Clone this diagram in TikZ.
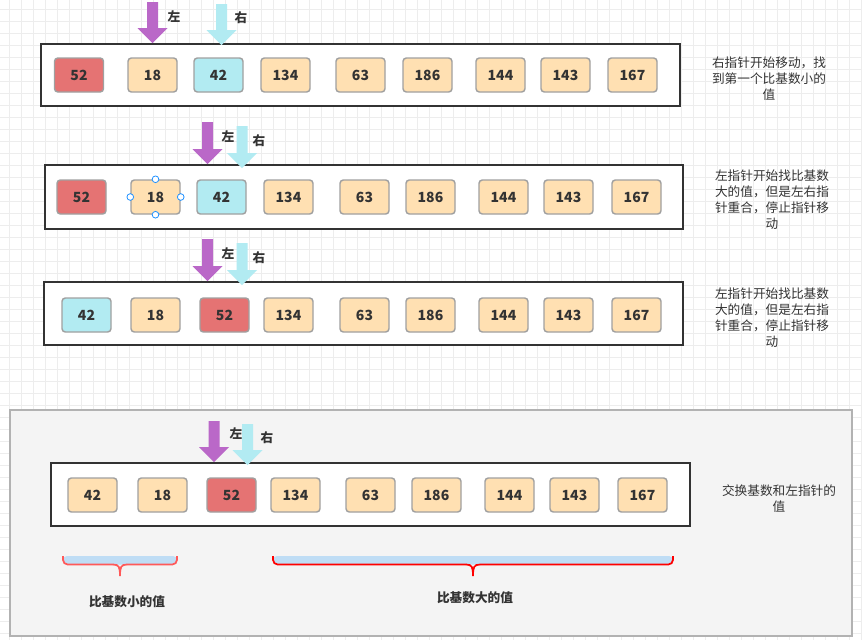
\documentclass[tikz,border=0pt]{standalone}
\usepackage{fontspec}
\setmainfont{Noto Sans CJK SC}
\usetikzlibrary{positioning}
\definecolor{cream}{HTML}{FFE0B2}
\definecolor{pivotred}{HTML}{E57373}
\definecolor{hitcyan}{HTML}{B2EBF2}
\definecolor{leftarrow}{HTML}{BA68C8}
\definecolor{cellline}{HTML}{A0A0A0}
\definecolor{gridgray}{HTML}{EDEDED}
\definecolor{panelgray}{HTML}{F4F4F4}
\definecolor{bracefill}{HTML}{BFDDF5}
\definecolor{handleblue}{HTML}{1E90FF}
\definecolor{txt}{HTML}{333333}
% block arrow pointing down: centre x, top y, tip y, colour
\newcommand\pointer[4]{\fill[#4] (#1-5.5,#2) -- (#1+5.5,#2) -- (#1+5.5,#3-15) -- (#1+15,#3-15) -- (#1,#3) -- (#1-15,#3-15) -- (#1-5.5,#3-15) -- cycle;}
% curly bracket: left x, right x, middle x, colour
\newcommand\curly[4]{%
	\fill[bracefill,rounded corners=3] (#1,556) rectangle (#2,564.5);
	\draw[#4,line width=1.3pt,rounded corners=3.5] (#1,556) |- (#3-7,564.5);
	\draw[#4,line width=1.3pt,rounded corners=3.5] (#2,556) |- (#3+7,564.5);
	\draw[#4,line width=1.3pt] (#3-7,564.5) .. controls (#3-1,564.5) and (#3,567) .. (#3,576) .. controls (#3,567) and (#3+1,564.5) .. (#3+7,564.5);}

\begin{document}
\begin{tikzpicture}[% pixel units, y grows downwards
			x=0.75pt,y=-0.75pt,
			every node/.style={
				align=center,		% "\\" breaks the notes
				inner sep=0pt,
				text=txt
			},
			cell/.style={rectangle,rounded corners=2.5pt,draw=cellline,line width=1.1pt,fill=cream,
				minimum width=36.75pt,minimum height=25.5pt,font=\bfseries\fontsize{10.5}{12}\selectfont},
			pivot/.style={cell,fill=pivotred},
			hit/.style={cell,fill=hitcyan},
			frame/.style={draw=black!80,line width=1.1pt,fill=white},
			note/.style={font=\fontsize{9.5}{12}\selectfont},
			tag/.style={font=\bfseries\fontsize{9.5}{11}\selectfont},
			handle/.style={circle,draw=handleblue,fill=white,line width=0.6pt,minimum size=5pt}
		]
		\useasboundingbox (0,0) rectangle (862,640);
		\fill[white] (0,0) rectangle (862,640);
		\foreach \g in {9,21,...,861} \draw[gridgray,line width=0.6pt] (\g,0) -- (\g,640);
		\foreach \g in {9,21,...,633} \draw[gridgray,line width=0.6pt] (0,\g) -- (862,\g);

		% step 1
		\draw[frame] (41,44) rectangle (680,106);
		\node[pivot](a1) at (79,75){52};
		\node[cell](a2) at (152.5,75){18};
		\node[hit](a3) at (218.5,75){42};
		\node[cell](a4) at (285.5,75){134};
		\node[cell](a5) at (360.5,75){63};
		\node[cell](a6) at (427.5,75){186};
		\node[cell](a7) at (500.5,75){144};
		\node[cell](a8) at (565.5,75){143};
		\node[cell](a9) at (632.5,75){167};
		\pointer{152.5}{2}{43}{leftarrow}
		\pointer{221.5}{4}{45}{hitcyan}
		\node[tag](L1) at (174,17){左};
		\node[tag](R1) at (241,18){右};
		\node[note](N1) at (769,78.5){右指针开始移动，找\\到第一个比基数小的\\值};

		% step 2
		\draw[frame] (45,165) rectangle (683,229);
		\node[pivot](b1) at (81.5,197){52};
		\node[cell](b2) at (155.5,197){18};
		\node[hit](b3) at (221.5,197){42};
		\node[cell](b4) at (288.5,197){134};
		\node[cell](b5) at (364.5,197){63};
		\node[cell](b6) at (430.5,197){186};
		\node[cell](b7) at (503.5,197){144};
		\node[cell](b8) at (568.5,197){143};
		\node[cell](b9) at (636.5,197){167};
		\node[handle] at (b2.west){};
		\node[handle] at (b2.east){};
		\node[handle] at (b2.north){};
		\node[handle] at (b2.south){};
		\pointer{207.5}{122}{164}{leftarrow}
		\pointer{242}{126}{168}{hitcyan}
		\node[tag](L2) at (228,137){左};
		\node[tag](R2) at (259,141){右};
		\node[note](N2) at (772,199.5){左指针开始找比基数\\大的值，但是左右指\\针重合，停止指针移\\动};

		% step 3
		\draw[frame] (44,282) rectangle (683,345);
		\node[hit](c1) at (86.5,315){42};
		\node[cell](c2) at (155.5,315){18};
		\node[pivot](c3) at (224.5,315){52};
		\node[cell](c4) at (288.5,315){134};
		\node[cell](c5) at (364.5,315){63};
		\node[cell](c6) at (430.5,315){186};
		\node[cell](c7) at (503.5,315){144};
		\node[cell](c8) at (568.5,315){143};
		\node[cell](c9) at (636.5,315){167};
		\pointer{207.5}{239}{281}{leftarrow}
		\pointer{242}{243}{285}{hitcyan}
		\node[tag](L3) at (228,254){左};
		\node[tag](R3) at (259,258){右};
		\node[note](N3) at (772,317.5){左指针开始找比基数\\大的值，但是左右指\\针重合，停止指针移\\动};

		% step 4, swapped
		\draw[fill=panelgray,draw=black!30,line width=1.1pt] (10,410) rectangle (852,636);
		\draw[frame] (51,463) rectangle (690,526);
		\node[cell](d1) at (92.5,495){42};
		\node[cell](d2) at (162.5,495){18};
		\node[pivot](d3) at (231.5,495){52};
		\node[cell](d4) at (295.5,495){134};
		\node[cell](d5) at (370.5,495){63};
		\node[cell](d6) at (436.5,495){186};
		\node[cell](d7) at (509.5,495){144};
		\node[cell](d8) at (574.5,495){143};
		\node[cell](d9) at (642.5,495){167};
		\pointer{214}{421}{462}{leftarrow}
		\pointer{247.5}{424}{465}{hitcyan}
		\node[tag](L4) at (236,434){左};
		\node[tag](R4) at (267,438){右};
		\node[note](N4) at (779,499){交换基数和左指针的\\值};
		\curly{63}{177}{120}{red!65}
		\curly{273}{673}{473}{red}
		\node[tag](S) at (127,602){比基数小的值};
		\node[tag](B) at (475,598){比基数大的值};
	\end{tikzpicture}
\end{document}
